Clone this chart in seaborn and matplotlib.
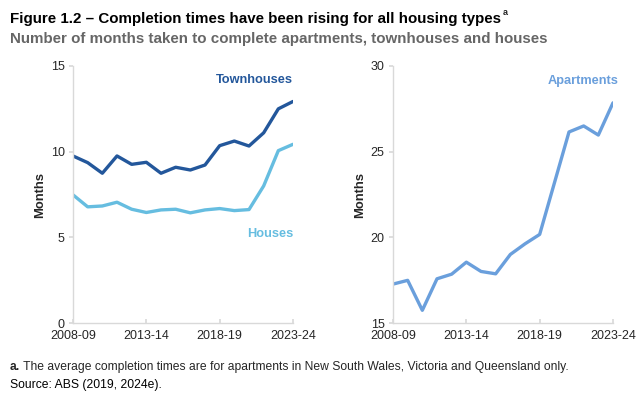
import numpy as np
import pandas as pd
import matplotlib
matplotlib.use("Agg")
import matplotlib.pyplot as plt
import seaborn as sns

years = ["2008-09", "2009-10", "2010-11", "2011-12", "2012-13", "2013-14",
         "2014-15", "2015-16", "2016-17", "2017-18", "2018-19", "2019-20",
         "2020-21", "2021-22", "2022-23", "2023-24"]
townhouses = [9.75, 9.36, 8.74, 9.75, 9.26, 9.38, 8.74, 9.09, 8.93, 9.22,
              10.35, 10.62, 10.33, 11.1, 12.5, 12.93]
houses = [7.48, 6.78, 6.83, 7.05, 6.64, 6.45, 6.60, 6.64, 6.43, 6.60,
          6.68, 6.56, 6.62, 8.0, 10.06, 10.43]
apartments = [17.27, 17.49, 15.74, 17.58, 17.85, 18.55, 18.01, 17.87, 19.0,
              19.62, 20.17, 23.16, 26.15, 26.5, 25.97, 27.85]
tick_years = ["2008-09", "2013-14", "2018-19", "2023-24"]

c_town = "#23579b"
c_house = "#66bde0"
c_apt = "#6a9fdc"
c_axis = "#d9d9d9"

sns.set_theme(style="white")
plt.rcParams["font.family"] = ["Liberation Sans", "DejaVu Sans"]

df = pd.DataFrame({"idx": np.arange(len(years)), "Townhouses": townhouses,
                   "Houses": houses, "Apartments": apartments})

fig = plt.figure(figsize=(6.41, 3.98), dpi=100)
ax1 = fig.add_axes([73 / 641, 75 / 398, 220 / 641, 257 / 398])
ax2 = fig.add_axes([393 / 641, 75 / 398, 220 / 641, 257 / 398])

sns.lineplot(data=df, x="idx", y="Townhouses", ax=ax1, color=c_town, linewidth=2.4)
sns.lineplot(data=df, x="idx", y="Houses", ax=ax1, color=c_house, linewidth=2.4)
sns.lineplot(data=df, x="idx", y="Apartments", ax=ax2, color=c_apt, linewidth=2.4)

tick_pos = [years.index(t) for t in tick_years]
for ax, lo, hi in [(ax1, 0, 15), (ax2, 15, 30)]:
    ax.set_xlim(0, len(years) - 1)
    ax.set_ylim(lo, hi)
    ax.set_yticks(np.arange(lo, hi + 1, 5))
    ax.set_xticks(tick_pos)
    ax.set_xticklabels(tick_years)
    ax.set_xlabel("")
    ax.set_ylabel("Months", fontsize=9.4, fontweight="bold", labelpad=3)
    for s in ["top", "right"]:
        ax.spines[s].set_visible(False)
    for s in ["left", "bottom"]:
        ax.spines[s].set_color(c_axis)
        ax.spines[s].set_linewidth(1)
    ax.tick_params(axis="y", direction="out", length=3, color=c_axis,
                   labelsize=9, pad=3, left=True)
    ax.tick_params(axis="x", direction="in", length=3, color=c_axis,
                   labelsize=9, pad=5, bottom=True)
    ax.patch.set_alpha(0)

ax1.text(15, 14.2, "Townhouses", color=c_town, fontsize=9.2,
         fontweight="bold", ha="right", va="center")
ax1.text(15, 5.2, "Houses", color=c_house, fontsize=9.2,
         fontweight="bold", ha="right", va="center")
ax2.text(15.35, 29.15, "Apartments", color=c_apt, fontsize=9.2,
         fontweight="bold", ha="right", va="center")

x0 = 10 / 641
title = fig.text(x0, 0.953, "Figure 1.2 \u2013 Completion times have been rising for all housing types",
                 fontsize=10.9, fontweight="bold", color="black", ha="left", va="center")
ax1.annotate("a", xy=(1, 0.62), xycoords=title, xytext=(1.5, 0),
             textcoords="offset points", fontsize=6.5, fontweight="bold",
             ha="left", va="bottom")
fig.text(x0, 0.903, "Number of months taken to complete apartments, townhouses and houses",
         fontsize=10.9, fontweight="bold", color="#666666", ha="left", va="center")

fa = fig.text(x0, 0.078, "a.", fontsize=8.7, fontweight="bold", ha="left", va="center")
ax1.annotate(" The average completion times are for apartments in New South Wales, Victoria and Queensland only.",
             xy=(1, 0.5), xycoords=fa, fontsize=8.7, ha="left", va="center",
             annotation_clip=False)
fig.text(x0, 0.032, "Source: ABS (2019, 2024e).",
         fontsize=8.7, ha="left", va="center", color="black")

fig.savefig("out.png", dpi=100)
